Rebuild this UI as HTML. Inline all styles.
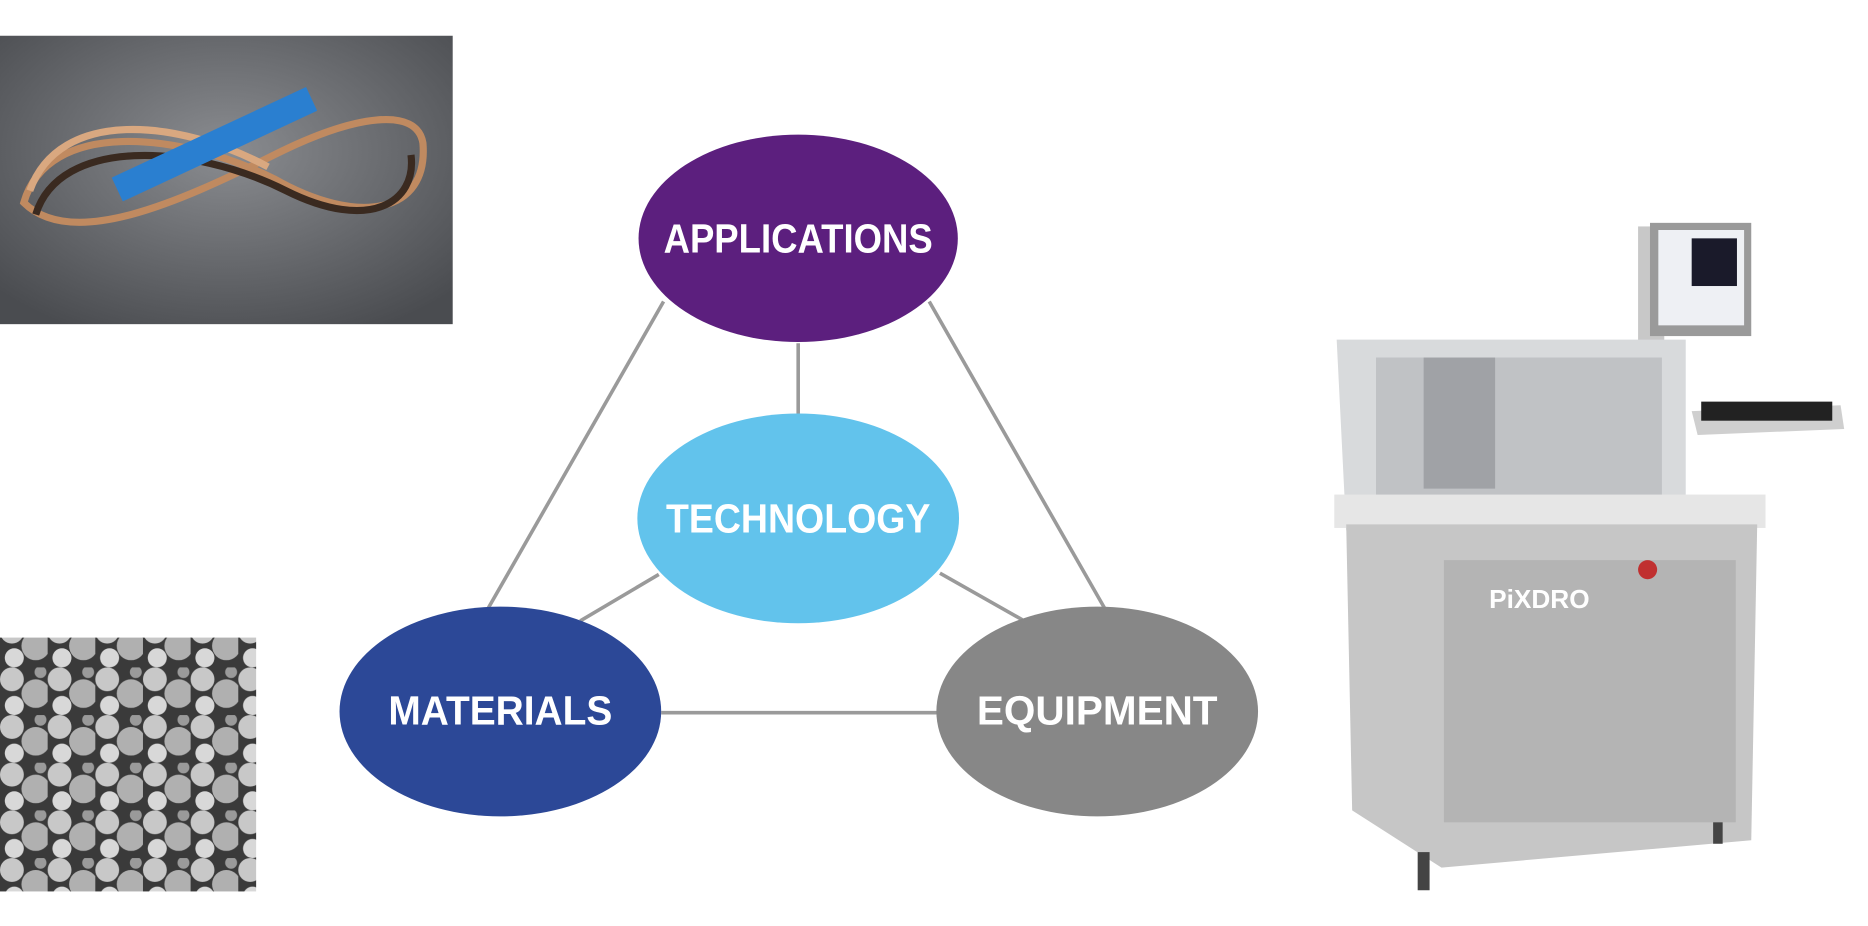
<!DOCTYPE html>
<html><head><meta charset="utf-8"><style>
html,body{margin:0;padding:0;background:#fff;}
svg{display:block;}
text{font-family:"Liberation Sans",sans-serif;font-weight:bold;fill:#fff;}
</style></head><body>
<svg width="1868" height="926" viewBox="0 0 1568 777" preserveAspectRatio="none" xmlns="http://www.w3.org/2000/svg">
<defs>
<radialGradient id="bg1" cx="0.5" cy="0.4" r="0.7"><stop offset="0" stop-color="#8a8c90"/><stop offset="1" stop-color="#4a4c50"/></radialGradient>
<pattern id="balls" width="40" height="40" patternUnits="userSpaceOnUse">
<rect width="40" height="40" fill="#3a3a3a"/>
<circle cx="10" cy="10" r="10" fill="#c8c8c8"/><circle cx="30" cy="22" r="12" fill="#b0b0b0"/><circle cx="12" cy="32" r="8" fill="#d8d8d8"/><circle cx="34" cy="4" r="5" fill="#9a9a9a"/>
</pattern>
</defs>
<rect x="0" y="30" width="380" height="242" fill="url(#bg1)"/>
<g fill="none" stroke-width="6">
<path d="M20,170 C40,100 150,110 230,150 C300,190 360,180 355,120 C350,90 300,95 230,130 C150,170 60,210 20,170Z" stroke="#c08a60"/>
<path d="M30,180 C50,115 160,120 240,160 C310,195 350,170 345,130" stroke="#3a2a20"/>
<path d="M25,160 C50,90 150,100 225,140" stroke="#d9a880"/>
</g>
<rect x="90" y="110" width="180" height="22" fill="#2a7fd0" transform="rotate(-25 180 121)"/>
<rect x="0" y="535" width="215" height="213" fill="url(#balls)"/>
<g stroke="#9a9a9a" stroke-width="3">
<line x1="670" y1="288" x2="670" y2="347"/>
<line x1="557" y1="253" x2="410" y2="510"/>
<line x1="780" y1="253" x2="927" y2="510"/>
<line x1="555" y1="598" x2="787" y2="598"/>
<line x1="553" y1="482" x2="487" y2="521"/>
<line x1="789" y1="481" x2="858" y2="520"/>
</g>
<ellipse cx="670" cy="200" rx="134" ry="87" fill="#5c1f7e"/>
<ellipse cx="670" cy="435" rx="135" ry="88" fill="#62c3ec"/>
<ellipse cx="420" cy="597" rx="135" ry="88" fill="#2c4897"/>
<ellipse cx="921" cy="597" rx="135" ry="88" fill="#878787"/>
<g font-size="34" text-anchor="middle">
<text x="670" y="212" textLength="226" lengthAdjust="spacingAndGlyphs">APPLICATIONS</text>
<text x="670" y="447" textLength="222" lengthAdjust="spacingAndGlyphs">TECHNOLOGY</text>
<text x="420" y="608" textLength="188" lengthAdjust="spacingAndGlyphs">MATERIALS</text>
<text x="921" y="608" textLength="202" lengthAdjust="spacingAndGlyphs">EQUIPMENT</text>
</g>
<!-- machine -->
<rect x="1375" y="190" width="22" height="250" fill="#c8c8c8"/>
<rect x="1385" y="187" width="85" height="95" fill="#9a9a9a"/>
<rect x="1392" y="193" width="72" height="80" fill="#eef0f4"/>
<rect x="1420" y="200" width="38" height="40" fill="#1a1a2a"/>
<path d="M1420,345 L1545,340 L1548,360 L1425,365Z" fill="#cfcfcf"/>
<rect x="1428" y="337" width="110" height="16" fill="#222"/>
<path d="M1122,285 L1415,285 L1415,420 L1130,445Z" fill="#d8dadc"/>
<rect x="1155" y="300" width="240" height="120" fill="#c0c2c5"/>
<rect x="1195" y="300" width="60" height="110" fill="#a0a2a6"/>
<rect x="1120" y="415" width="362" height="28" fill="#e6e6e6"/>
<path d="M1130,440 L1475,440 L1470,705 L1210,728 L1135,680Z" fill="#c6c6c6"/>
<rect x="1212" y="470" width="245" height="220" fill="#b4b4b4"/>
<text x="1250" y="510" font-size="22" style="fill:#fff">PiXDRO</text>
<circle cx="1383" cy="478" r="8" fill="#c03030"/>
<rect x="1190" y="715" width="10" height="32" fill="#444"/>
<rect x="1438" y="690" width="8" height="18" fill="#444"/>
</svg>
</body></html>
